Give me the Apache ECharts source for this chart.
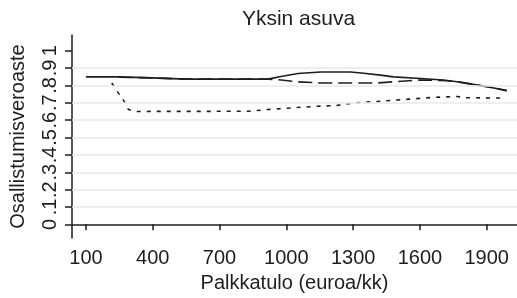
<!DOCTYPE html>
<html>
<head>
<meta charset="utf-8">
<script src="https://cdn.jsdelivr.net/npm/echarts@6/dist/echarts.min.js"></script>
<style>
  html, body { margin: 0; padding: 0; background: #fff; }
  #chart { width: 517px; height: 298px; }
</style>
</head>
<body>
<div id="chart"></div>
<script>
// tick labels
const xTicks = [100, 400, 700, 1000, 1300, 1600, 1900];
const yTicks = [0, 0.1, 0.2, 0.3, 0.4, 0.5, 0.6, 0.7, 0.8, 0.9, 1];
const yGrid = [0.1, 0.2, 0.3, 0.4, 0.5, 0.6, 0.7, 0.8, 0.9];

// solid line
const solidX = [100, 246, 395, 551, 918, 976, 1052, 1155, 1289, 1347, 1423, 1481, 1602, 1705, 1767, 1839, 1915, 1990];
const solidY = [0.849, 0.849, 0.843, 0.836, 0.836, 0.851, 0.868, 0.877, 0.877, 0.870, 0.859, 0.849, 0.840, 0.831, 0.821, 0.806, 0.789, 0.770];

// dashed line
const dashX = [246, 395, 551, 918, 976, 1043, 1155, 1410, 1481, 1602, 1723, 1767, 1839, 1915, 1990];
const dashY = [0.847, 0.843, 0.836, 0.836, 0.831, 0.821, 0.814, 0.814, 0.821, 0.831, 0.827, 0.821, 0.806, 0.789, 0.770];

// dotted line
const dotX = [216, 243, 269, 291, 319, 829, 918, 1030, 1142, 1231, 1302, 1414, 1535, 1660, 1767, 1812, 1965];
const dotY = [0.814, 0.761, 0.714, 0.661, 0.650, 0.651, 0.661, 0.671, 0.680, 0.685, 0.699, 0.708, 0.719, 0.731, 0.736, 0.729, 0.727];

const font = 'Liberation Sans';
const ink = '#1e1e1e';

const pairs = (xs, ys) => xs.map((x, i) => [x, ys[i]]);

const lineSeries = (name, xs, ys, dash) => ({
  name: name,
  type: 'line',
  data: pairs(xs, ys),
  symbol: 'none',
  smooth: false,
  lineStyle: { color: ink, width: 1.6, type: dash },
  z: 3,
});

const chart = echarts.init(document.getElementById('chart'), null, { renderer: 'canvas' });

const option = {
  animation: false,
  title: {
    text: 'Yksin asuva',
    left: 293.5,
    textAlign: 'center',
    top: 4,
    textStyle: { fontFamily: font, fontSize: 21, fontWeight: 'normal', color: ink },
  },
  grid: { left: 70, right: 0, top: 35, bottom: 56 },
  xAxis: {
    type: 'value',
    min: 37.4,
    max: 2036,
    name: 'Palkkatulo (euroa/kk)',
    nameLocation: 'middle',
    nameGap: 33,
    nameTextStyle: { fontFamily: font, fontSize: 20, color: ink },
    axisLine: { lineStyle: { color: ink, width: 1.5 } },
    axisTick: { show: true, length: 6, customValues: xTicks, lineStyle: { color: ink, width: 1.5 } },
    axisLabel: {
      customValues: xTicks,
      margin: 10,
      fontFamily: font,
      fontSize: 20,
      color: ink,
      formatter: (v) => String(v),
    },
    splitLine: { show: false },
  },
  yAxis: {
    type: 'value',
    min: -0.079,
    max: 1.09,
    name: 'Osallistumisveroaste',
    nameLocation: 'middle',
    nameGap: 44,
    nameTextStyle: { fontFamily: font, fontSize: 20, color: ink },
    axisLine: { show: true, lineStyle: { color: ink, width: 1.5 } },
    axisTick: { show: true, length: 7, customValues: yTicks, lineStyle: { color: ink, width: 1.5 } },
    axisLabel: {
      customValues: yTicks,
      rotate: 90,
      margin: 12,
      fontFamily: font,
      fontSize: 20,
      color: ink,
      formatter: (v) => (v === 0 || v === 1 ? String(v) : String(Math.round(v * 10) / 10).replace(/^0/, '')),
    },
    splitLine: { show: false },
  },
  series: [
    lineSeries('solid', solidX, solidY, 'solid'),
    lineSeries('dash', dashX, dashY, [14, 6]),
    lineSeries('dot', dotX, dotY, [4, 6]),
    {
      type: 'line',
      data: [],
      silent: true,
      markLine: {
        symbol: 'none',
        silent: true,
        label: { show: false },
        lineStyle: { color: '#e8e8e8', width: 1.5, type: 'solid' },
        data: yGrid.map((v) => ({ yAxis: v })),
      },
      z: 1,
    },
  ],
};

chart.setOption(option);
</script>
</body>
</html>
